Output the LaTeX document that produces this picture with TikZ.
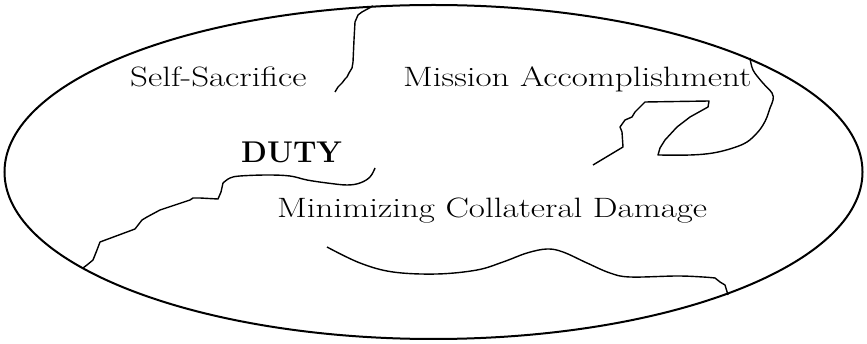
\documentclass[tikz,border=0pt]{standalone}
\usepackage{fontspec}
\setmainfont{Latin Modern Roman}
\newfontfamily\widefont{Latin Modern Roman}[FakeStretch=1.25]
\usepackage{tikz}
\usetikzlibrary{positioning}

\begin{document}
\begin{tikzpicture}[x=1pt, y=-1pt,
  border/.style={line width=2pt},
  region/.style={line width=1.4pt, line join=round},
  lbl/.style={anchor=base west, inner sep=0pt, font=\widefont\fontsize{28}{33}\selectfont}]

\useasboundingbox (0,0) rectangle (867,344);

%ellipse
\draw[border] (433.5,172) ellipse [x radius=429, y radius=167];

%dividing lines
\draw[region] (373,6) -- (362,12) -- (358,15) -- (355,22) -- (354,40) -- (353,62)
  -- (352,68) -- (349,73) -- (347,77) -- (345,79) -- (342,83) -- (338,87) -- (335,92);

\draw[region] plot[smooth, tension=0.6] coordinates {(750,58) (753,70) (762,82) (772,93)
  (773,100) (770,108) (767,117) (763,125) (757,133) (747,142) (733,148) (713,153) (690,155) (658,155)}
  -- (660,148) -- (665,140) -- (677,127) -- (690,117) -- (708,107) -- (709,101)
  -- (645,102) -- (642,105) -- (635,112) -- (632,117) -- (625,120) -- (620,127)
  -- (622,132) -- (623,147) -- (593,165);

\draw[region] plot[smooth, tension=0.6] coordinates {(375,168) (370,177) (360,183) (347,185)
  (327,183) (307,180) (290,176) (267,175) (240,176) (230,178) (223,183)}
  -- (221,192) -- (218,199) -- (200,198) -- (193,198) -- (190,200) -- (160,210)
  -- (147,217) -- (142,220) -- (135,229) -- (100,242) -- (97,250) -- (93,260)
  -- (87,265) -- (83,268);

\draw[region] plot[smooth, tension=0.6] coordinates {(327,247) (360,263) (393,272) (437,274)
  (477,270) (503,262) (527,253) (547,249) (563,252) (587,263) (610,273) (630,277)
  (677,276) (703,277) (715,278)} -- (720,282) -- (725,285) -- (728,295);

%labels
\node[lbl] (selfsac) at (130,87) {Self-Sacrifice};
\node[lbl] (mission) at (403,87) {Mission Accomplishment};
\node[lbl, font=\fontsize{30}{35}\selectfont\bfseries] (duty) at (241,163) {DUTY};
\node[lbl] (mincd) at (277,218) {Minimizing Collateral Damage};

\end{tikzpicture}
\end{document}
